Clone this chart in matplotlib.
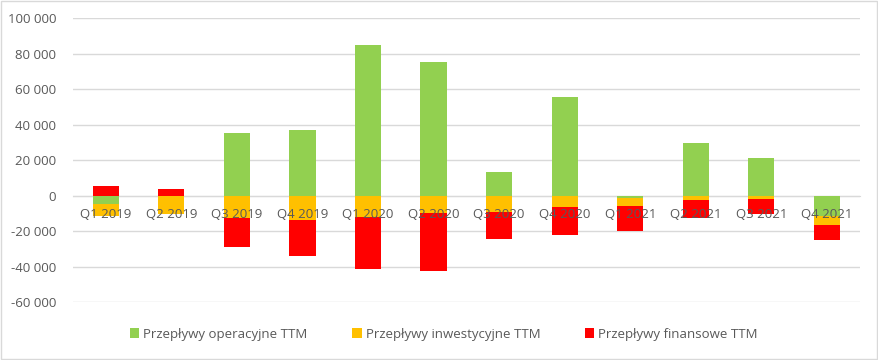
import matplotlib
matplotlib.use("Agg")
import matplotlib.pyplot as plt
from matplotlib.patches import Rectangle
from matplotlib.ticker import FuncFormatter
import numpy as np

plt.rcParams['font.family'] = ['Open Sans', 'DejaVu Sans']

quarters = ["Q1 2019", "Q2 2019", "Q3 2019", "Q4 2019", "Q1 2020", "Q2 2020",
            "Q3 2020", "Q4 2020", "Q1 2021", "Q2 2021", "Q3 2021", "Q4 2021"]
operacyjne = [-4600, 0, 35400, 37000, 84800, 75300, 13500, 55600, -1300, 29800, 21300, -11800]
inwestycyjne = [-7200, -10300, -12500, -14000, -12000, -9700, -9000, -6700, -4500, -2400, -1900, -4700]
finansowe = [5300, 3700, -16700, -20200, -29400, -32600, -15300, -15800, -14400, -10100, -8400, -8300]
yticks = [-60000, -40000, -20000, 0, 20000, 40000, 60000, 80000, 100000]

series_names = ["Przepływy operacyjne TTM", "Przepływy inwestycyjne TTM", "Przepływy finansowe TTM"]
colors = ["#92D050", "#FFC000", "#FF0000"]

fig = plt.figure(figsize=(8.79, 3.6), dpi=100)
ax = fig.add_axes([0.083, 0.161, 0.895, 0.789])

x = np.arange(len(quarters))
pos_bottom = np.zeros(len(quarters))
neg_bottom = np.zeros(len(quarters))
for vals, name, col in zip([operacyjne, inwestycyjne, finansowe], series_names, colors):
    v = np.array(vals, dtype=float)
    bottoms = np.where(v >= 0, pos_bottom, neg_bottom)
    ax.bar(x, v, bottom=bottoms, width=0.4, color=col, label=name, zorder=1)
    pos_bottom = pos_bottom + np.where(v > 0, v, 0)
    neg_bottom = neg_bottom + np.where(v < 0, v, 0)

for t in yticks:
    ax.axhline(t, color='#D9D9D9', linewidth=1, zorder=0)

ax.set_axisbelow(False)
ax.set_ylim(-60000, 100000)
ax.set_yticks(yticks)
ax.yaxis.set_major_formatter(FuncFormatter(lambda v, p: f"{int(v):,}".replace(",", " ")))
ax.set_xlim(-0.5, len(quarters) - 0.5)
ax.set_xticks(x)
ax.set_xticklabels(quarters)

for s in ['top', 'right', 'left']:
    ax.spines[s].set_visible(False)
ax.spines['bottom'].set_position(('data', 0))
ax.spines['bottom'].set_color('#D9D9D9')
ax.spines['bottom'].set_zorder(0.5)
ax.tick_params(axis='both', length=0, colors='#595959', labelsize=9.5)
ax.tick_params(axis='x', pad=9)
ax.tick_params(axis='y', pad=12)

leg = fig.legend(loc='center', bbox_to_anchor=(0.505, 0.072), ncol=3, frameon=False,
                 fontsize=9.5, handlelength=0.7, handleheight=0.7, handletextpad=0.3,
                 columnspacing=3.4, labelcolor='#595959')

fig.patches.append(Rectangle((0.001, 0.002), 0.997, 0.995, transform=fig.transFigure,
                             fill=False, edgecolor='#D9D9D9', linewidth=1))

fig.savefig("out.png", dpi=100)
